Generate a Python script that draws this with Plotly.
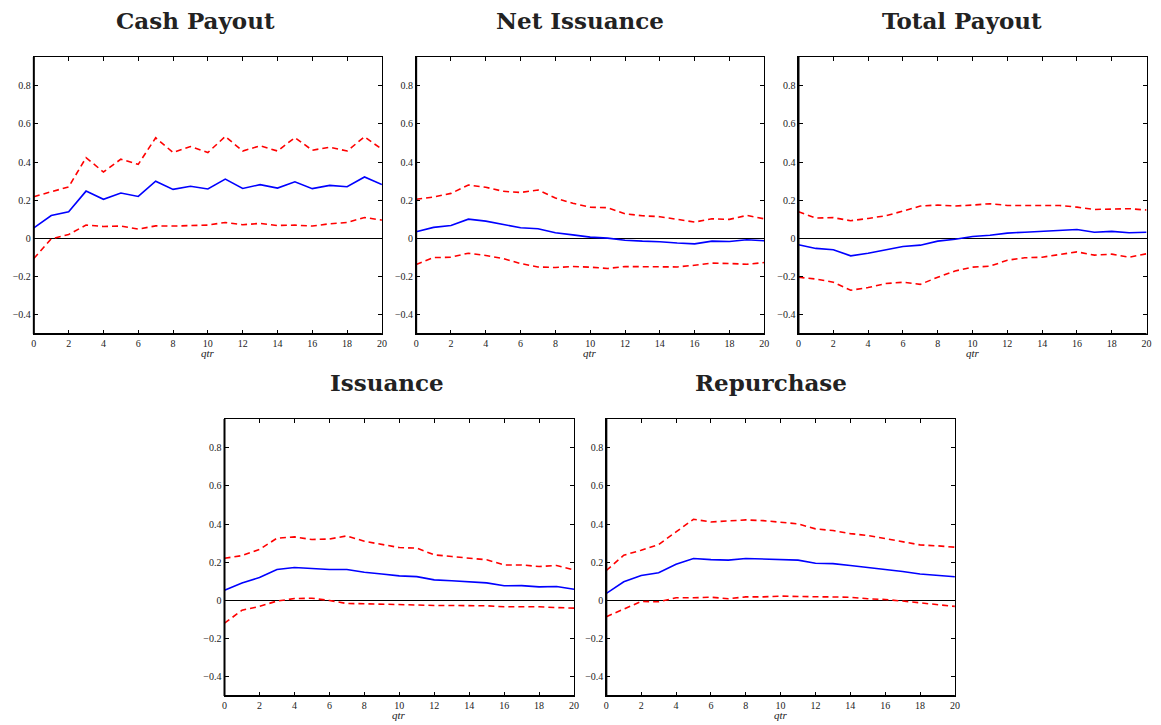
import plotly.graph_objects as go

# page has an 8px body margin; compensate so the picture lines up with the window
OFF = 8
W, H = 1161 - OFF, 725 - OFF

qtr = list(range(21))

# Cash Payout
cash_irf = [0.056, 0.12, 0.14, 0.248, 0.205, 0.238, 0.22, 0.30, 0.257, 0.273, 0.259,
            0.311, 0.262, 0.282, 0.264, 0.297, 0.261, 0.278, 0.271, 0.322, 0.282]
cash_upper = [0.219, 0.243, 0.27, 0.423, 0.348, 0.415, 0.388, 0.527, 0.45, 0.481, 0.45,
              0.534, 0.458, 0.485, 0.458, 0.528, 0.462, 0.478, 0.458, 0.532, 0.467]
cash_lower = [-0.105, -0.002, 0.021, 0.07, 0.063, 0.065, 0.049, 0.066, 0.065, 0.066, 0.07,
              0.084, 0.072, 0.079, 0.068, 0.07, 0.065, 0.077, 0.084, 0.11, 0.096]

# Net Issuance
net_irf = [0.035, 0.058, 0.068, 0.101, 0.091, 0.073, 0.056, 0.051, 0.03, 0.019, 0.007,
           0.002, -0.009, -0.014, -0.017, -0.024, -0.028, -0.014, -0.016, -0.007, -0.012]
net_upper = [0.205, 0.217, 0.236, 0.28, 0.268, 0.247, 0.241, 0.254, 0.212, 0.184, 0.164,
             0.161, 0.129, 0.119, 0.114, 0.10, 0.086, 0.103, 0.10, 0.121, 0.103]
net_lower = [-0.136, -0.10, -0.098, -0.077, -0.089, -0.105, -0.131, -0.149, -0.152, -0.147, -0.15,
             -0.157, -0.147, -0.147, -0.147, -0.149, -0.14, -0.129, -0.131, -0.135, -0.126]

# Total Payout
total_irf = [-0.033, -0.052, -0.059, -0.091, -0.077, -0.059, -0.042, -0.035, -0.014, -0.004, 0.01,
             0.017, 0.028, 0.033, 0.037, 0.045, 0.047, 0.033, 0.037, 0.03, 0.033]
total_upper = [0.14, 0.107, 0.109, 0.093, 0.105, 0.119, 0.143, 0.17, 0.175, 0.17, 0.175,
               0.182, 0.173, 0.173, 0.173, 0.173, 0.164, 0.152, 0.154, 0.156, 0.149]
total_lower = [-0.203, -0.212, -0.229, -0.271, -0.257, -0.236, -0.229, -0.24, -0.203, -0.17, -0.15,
               -0.145, -0.114, -0.101, -0.098, -0.082, -0.07, -0.087, -0.082, -0.098, -0.08]

# Issuance
iss_irf = [0.054, 0.092, 0.12, 0.162, 0.173, 0.167, 0.162, 0.162, 0.148, 0.139, 0.129,
           0.125, 0.108, 0.103, 0.099, 0.092, 0.077, 0.078, 0.071, 0.073, 0.059]
iss_upper = [0.221, 0.235, 0.267, 0.326, 0.333, 0.319, 0.322, 0.338, 0.31, 0.293, 0.277,
             0.274, 0.239, 0.23, 0.223, 0.213, 0.186, 0.186, 0.178, 0.183, 0.16]
iss_lower = [-0.119, -0.051, -0.031, -0.003, 0.01, 0.012, 0.0, -0.016, -0.017, -0.019, -0.023,
             -0.026, -0.026, -0.026, -0.026, -0.028, -0.033, -0.033, -0.033, -0.037, -0.04]

# Repurchase
rep_irf = [0.037, 0.098, 0.131, 0.145, 0.19, 0.22, 0.214, 0.211, 0.22, 0.218, 0.216,
           0.211, 0.195, 0.193, 0.183, 0.173, 0.162, 0.152, 0.139, 0.131, 0.124]
rep_upper = [0.157, 0.237, 0.263, 0.293, 0.359, 0.425, 0.411, 0.417, 0.422, 0.418, 0.41,
             0.401, 0.375, 0.366, 0.35, 0.34, 0.324, 0.308, 0.291, 0.286, 0.279]
rep_lower = [-0.085, -0.045, -0.005, -0.007, 0.014, 0.014, 0.017, 0.009, 0.019, 0.019, 0.023,
             0.021, 0.019, 0.019, 0.017, 0.009, 0.005, -0.003, -0.012, -0.021, -0.031]

titles = ["Cash Payout", "Net Issuance", "Total Payout", "Issuance", "Repurchase"]
x_ticks = list(range(0, 21, 2))
y_ticks = [-0.4, -0.2, 0, 0.2, 0.4, 0.6, 0.8]
y_ticklabels = ["\u22120.4", "\u22120.2", "0", "0.2", "0.4", "0.6", "0.8"]

series = [
    (cash_irf, cash_upper, cash_lower),
    (net_irf, net_upper, net_lower),
    (total_irf, total_upper, total_lower),
    (iss_irf, iss_upper, iss_lower),
    (rep_irf, rep_upper, rep_lower),
]

# panel boxes in window pixels: (left, right, top, bottom)
boxes = [
    (31, 381.5, 57, 334),
    (416, 766.5, 57, 334),
    (801, 1151.5, 57, 334),
    (223, 575, 419, 696),
    (607.5, 958.5, 419, 696),
]
title_cx = [194, 581, 966, 387, 773]


def px(x):
    return (x - OFF) / W


def py(y):
    return 1 - (y - OFF) / H


fig = go.Figure()
tick_font = dict(family="Liberation Serif", size=10, color="#222222")

annotations = []
shapes = []
for i, ((irf, up, lo), (l, r, t, b)) in enumerate(zip(series, boxes)):
    n = i + 1
    xa = "x" if n == 1 else f"x{n}"
    ya = "y" if n == 1 else f"y{n}"
    for vals, color, dash in ((up, "#ff0000", "6px,4px"), (lo, "#ff0000", "6px,4px"),
                              (irf, "#0000ff", "solid")):
        fig.add_trace(go.Scatter(x=qtr, y=vals, mode="lines", xaxis=xa, yaxis=ya,
                                 line=dict(color=color, width=1.6, dash=dash),
                                 showlegend=False, hoverinfo="skip"))
    xkey = "xaxis" if n == 1 else f"xaxis{n}"
    ykey = "yaxis" if n == 1 else f"yaxis{n}"
    fig.layout[xkey] = dict(
        domain=[px(l), px(r)], anchor=ya, range=[0, 20],
        tickvals=x_ticks, ticks="inside", ticklen=4, tickcolor="black",
        showline=True, linecolor="black", linewidth=1.1, mirror="ticks",
        showgrid=False, zeroline=False, tickfont=tick_font, fixedrange=True,
    )
    fig.layout[ykey] = dict(
        domain=[py(b), py(t)], anchor=xa, range=[-0.5, 0.95],
        tickvals=y_ticks, ticktext=y_ticklabels, ticks="inside", ticklen=4,
        tickcolor="black", showline=True, linecolor="black", linewidth=1.1,
        mirror="ticks", showgrid=False, zeroline=True, zerolinecolor="black",
        zerolinewidth=1, tickfont=tick_font, fixedrange=True,
    )
    # heavier left and bottom frame edges
    shapes.append(dict(type="line", xref=f"{xa} domain", yref=f"{ya} domain",
                       x0=0, x1=0, y0=0, y1=1, line=dict(color="black", width=2)))
    shapes.append(dict(type="line", xref=f"{xa} domain", yref=f"{ya} domain",
                       x0=0, x1=1, y0=0, y1=0, line=dict(color="black", width=2)))
    # panel title
    annotations.append(dict(
        text=f"<b>{titles[i]}</b>", x=px(title_cx[i]), y=py(t - 37),
        xref="paper", yref="paper", xanchor="center", yanchor="middle",
        showarrow=False, font=dict(family="DejaVu Serif", size=23, color="#222222"),
    ))
    # x-axis label
    annotations.append(dict(
        text="<i>qtr</i>", x=px((l + r) / 2), y=py(b + 19),
        xref="paper", yref="paper", xanchor="center", yanchor="middle",
        showarrow=False, font=dict(family="Liberation Serif", size=11, color="#222222"),
    ))

fig.update_layout(
    width=W, height=H, margin=dict(l=0, r=0, t=0, b=0),
    paper_bgcolor="white", plot_bgcolor="white",
    annotations=annotations, shapes=shapes, showlegend=False,
)

fig.write_html("out.html", config={"displayModeBar": False})
